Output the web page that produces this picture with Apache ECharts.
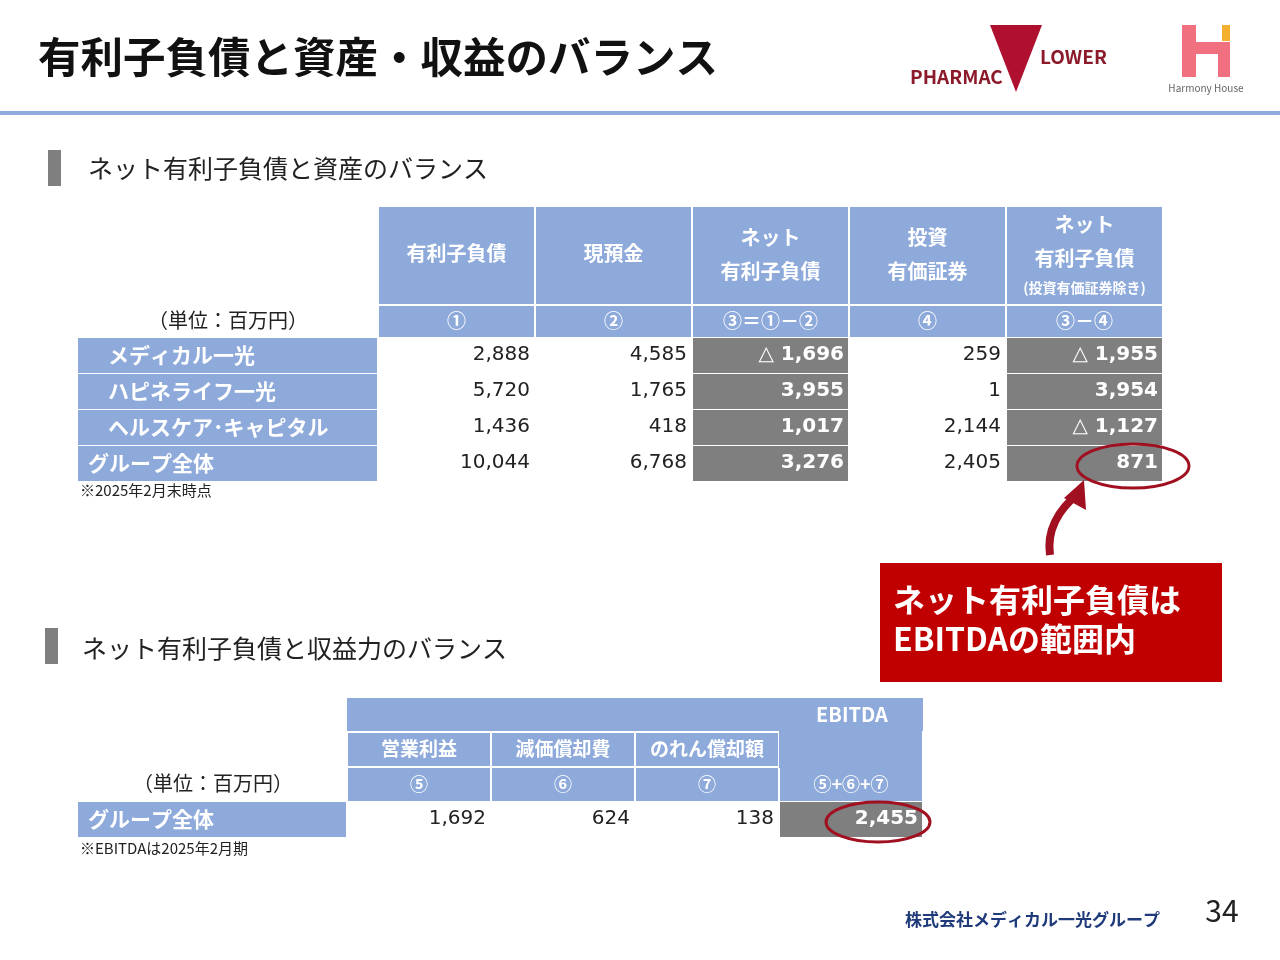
<!DOCTYPE html>
<html><head><meta charset="utf-8">
<script src="https://cdn.jsdelivr.net/npm/echarts@6/dist/echarts.min.js"></script>
<style>html,body{margin:0;padding:0;background:#fff}#c{width:1280px;height:960px}</style>
</head><body><div id="c"></div>
<script>
const title = '有利子負債と資産・収益のバランス';
const t1Headers = [['有利子負債'],['現預金'],['ネット','有利子負債'],['投資','有価証券'],['ネット','有利子負債','(投資有価証券除き)']];
const t1Marks = ['①','②','③＝①－②','④','③－④'];
const t1Rows = ['メディカル一光','ハピネライフ一光','ヘルスケア･キャピタル','グループ全体'];
const t1Values = [
  ['2,888','4,585','△ 1,696','259','△ 1,955'],
  ['5,720','1,765','3,955','1','3,954'],
  ['1,436','418','1,017','2,144','△ 1,127'],
  ['10,044','6,768','3,276','2,405','871']
];
const t2Headers = ['営業利益','減価償却費','のれん償却額',''];
const t2Marks = ['⑤','⑥','⑦','⑤+⑥+⑦'];
const t2Rows = ['グループ全体'];
const t2Values = [['1,692','624','138','2,455']];

const F = '"Noto Sans CJK JP","Noto Sans",sans-serif';
const NF = '"DejaVu Sans","Noto Sans CJK JP",sans-serif';
const BLUE = '#8eaadb', GRAY = '#7f7f7f';
const g = [];
function rect(x,y,w,h,fill){g.push({type:'rect',shape:{x,y,width:w,height:h},style:{fill}});}
function text(x,y,t,o={}){g.push({type:'text',x,y,style:Object.assign({text:t,font:(o.bold?'bold ':'')+(o.size||20)+'px '+(o.font||F),fill:o.fill||'#222',textAlign:o.align||'left',textVerticalAlign:'middle'},o.extra||{})});}

text(38,57,title,{size:42.5,bold:true,fill:'#111'});
rect(0,111,1280,4,'#8faadc');
text(910,77,'PHARMAC',{size:19,bold:true,fill:'#8b1a2a'});
text(1040,57,'LOWER',{size:19,bold:true,fill:'#8b1a2a'});
g.push({type:'polygon',shape:{points:[[990,25],[1042,25],[1016,92]]},style:{fill:'#b01030'}});
rect(1182,25,14,52,'#f07080');rect(1196,42,22,12,'#f07080');rect(1218,42,12,35,'#f07080');rect(1222,25,8,16,'#f5b030');
text(1206,88,'Harmony House',{size:10,fill:'#666',align:'center'});

rect(48,150,13,36,'#7f7f7f');
text(88,168,'ネット有利子負債と資産のバランス',{size:25});
const c1 = [378,535,692,849,1006,1163];
for(let i=0;i<5;i++){
  const x=c1[i]+1,w=c1[i+1]-c1[i]-2;
  rect(x,207,w,97,BLUE);
  const hs=t1Headers[i], n=hs.length;
  const ys = n===1?[253]:n===2?[237,271]:[224,258,288];
  hs.forEach((h,k)=>text(x+w/2,ys[k],h,{size:k===2?14:20,bold:true,fill:'#fff',align:'center'}));
  rect(x,306,w,31,BLUE);
  text(x+w/2,321,t1Marks[i],{size:19,bold:true,fill:'#fff',align:'center'});
}
text(228,320,'（単位：百万円）',{size:20,align:'center'});
t1Rows.forEach((r,j)=>{
  const y=338+j*36;
  rect(78,y,299,35,BLUE);
  text(j===3?88:108,y+17,r,{size:21,bold:true,fill:'#fff'});
  for(let i=0;i<5;i++){
    const x=c1[i]+1,w=c1[i+1]-c1[i]-2;
    const dark=(i===2||i===4);
    if(dark) rect(x,y,w,35,GRAY);
    text(x+w-4,y+17,t1Values[j][i],{size:20,bold:dark,font:NF,fill:dark?'#fff':'#222',align:'right'});
  }
});
text(80,490,'※2025年2月末時点',{size:15});
g.push({type:'ellipse',shape:{cx:1133,cy:466,rx:56,ry:22},style:{fill:null,stroke:'#a01020',lineWidth:3}});
g.push({type:'bezierCurve',shape:{x1:1050,y1:555,x2:1080,y2:492,cpx1:1045,cpy1:520},style:{stroke:'#a01020',lineWidth:8,fill:null}});
g.push({type:'polygon',shape:{points:[[1064,498],[1084,480],[1086,510]]},style:{fill:'#a01020'}});

rect(880,563,342,119,'#c00000');
text(893,600,'ネット有利子負債は',{size:32,bold:true,fill:'#fff'});
text(893,639,'EBITDAの範囲内',{size:32,bold:true,fill:'#fff'});

rect(45,628,13,36,'#7f7f7f');
text(82,648,'ネット有利子負債と収益力のバランス',{size:25});
const c2=[347,491,635,779,923];
rect(347,698,576,33,BLUE);
text(852,714,'EBITDA',{size:20,bold:true,fill:'#fff',align:'center'});
for(let i=0;i<4;i++){
  const x=c2[i]+1,w=c2[i+1]-c2[i]-2;
  rect(x,733,w,33,BLUE);
  if(t2Headers[i]) text(x+w/2,749,t2Headers[i],{size:19,bold:true,fill:'#fff',align:'center'});
  rect(x,768,w,33,BLUE);
  text(x+w/2,784,t2Marks[i],{size:18,bold:true,fill:'#fff',align:'center'});
}
rect(779,731,143,37,BLUE);
text(213,783,'（単位：百万円）',{size:20,align:'center'});
t2Rows.forEach((r,j)=>{
  const y=802+j*36;
  rect(78,y,268,35,BLUE);
  text(88,y+17,r,{size:21,bold:true,fill:'#fff'});
  for(let i=0;i<4;i++){
    const x=c2[i]+1,w=c2[i+1]-c2[i]-2;const dark=i===3;
    if(dark) rect(x,y,w,35,GRAY);
    text(x+w-4,y+17,t2Values[j][i],{size:20,bold:dark,font:NF,fill:dark?'#fff':'#222',align:'right'});
  }
});
text(80,848,'※EBITDAは2025年2月期',{size:15});
g.push({type:'ellipse',shape:{cx:878,cy:822,rx:52,ry:20},style:{fill:null,stroke:'#a01020',lineWidth:3}});

text(905,920,'株式会社メディカル一光グループ',{size:17,bold:true,fill:'#1f3a7a',extra:{fontStyle:'italic'}});
text(1222,911,'34',{size:30,align:'center'});

const chart=echarts.init(document.getElementById('c'));
chart.setOption({animation:false,backgroundColor:'#fff',graphic:{elements:g}});
</script></body></html>
